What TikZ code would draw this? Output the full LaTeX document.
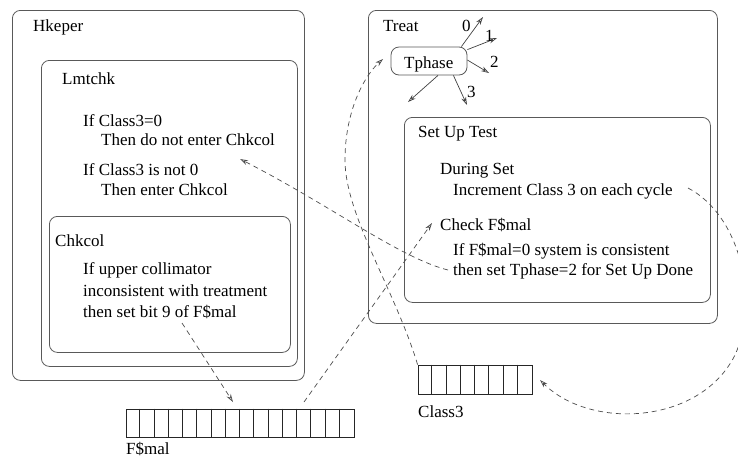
\documentclass[tikz,border=0pt]{standalone}
\usepackage{fontspec}
\setmainfont{Liberation Serif}
\usetikzlibrary{arrows.meta}
\begin{document}
\begin{tikzpicture}[x=1pt,y=-1pt,
  box/.style={draw=black!65, line width=0.8pt, rounded corners=8pt, inner sep=0pt, anchor=north west},
  txt/.style={anchor=base west, inner sep=0pt, font=\fontsize{17}{20}\selectfont},
  link/.style={draw=black!70, line width=0.7pt, dash pattern=on 5pt off 4pt, -{Stealth[open,length=8pt,width=5pt]}},
  ray/.style={draw=black!75, line width=0.7pt, -{Stealth[open,length=8pt,width=5pt]}},
  cellbox/.style={draw=black!85, line width=0.8pt, inner sep=0pt}
]
\useasboundingbox (0,0) rectangle (738,459);

% ---------- Hkeper side ----------
\node[box, minimum width=292pt, minimum height=370pt] (hkeper) at (12,10) {};
\node[box, minimum width=256pt, minimum height=306pt] (lmtchk) at (41,60) {};
\node[box, minimum width=241pt, minimum height=136pt] (chkcol) at (49,216) {};

\node[txt] (hk) at (33,31) {Hkeper};
\node[txt] (lm) at (62,84) {Lmtchk};
\node[txt] (l1) at (83,126) {If Class3=0};
\node[txt] (l2) at (101,145) {Then do not enter Chkcol};
\node[txt] (l3) at (83,175) {If Class3 is not 0};
\node[txt] (l4) at (101,195) {Then enter Chkcol};
\node[txt] (ck) at (55,246) {Chkcol};
\node[txt] (c1) at (83,274) {If upper collimator};
\node[txt] (c2) at (83,296) {inconsistent with treatment};
\node[txt] (c3) at (83,317) {then set bit 9 of F\$mal};

% ---------- Treat side ----------
\node[box, minimum width=349pt, minimum height=313pt] (treat) at (368,10) {};
\node[box, minimum width=306pt, minimum height=185pt] (setup) at (404,117) {};
\node[draw=black!65, line width=0.8pt, rounded corners=8pt, inner sep=0pt,
      minimum width=76pt, minimum height=28pt] (tphase) at (429,61) {};

\node[txt] (tr) at (383,31) {Treat};
\node[txt] (tp) at (404,68) {Tphase};
\node[txt] (su) at (418,137) {Set Up Test};
\node[txt] (s1) at (440,174) {During Set};
\node[txt] (s2) at (453,195) {Increment Class 3 on each cycle};
\node[txt] (s3) at (440,230) {Check F\$mal};
\node[txt] (s4) at (453,255) {If F\$mal=0 system is consistent};
\node[txt] (s5) at (453,275) {then set Tphase=2 for Set Up Done};

% Tphase rays
\coordinate (e0) at (483,17);
\coordinate (e1) at (497,38);
\coordinate (e2) at (489,73);
\coordinate (e3) at (467,105);
\coordinate (e4) at (408,102);
\draw[ray] ([xshift=-6pt]tphase.north east) -- (e0);
\draw[ray] ([yshift=-3pt]tphase.north east) -- (e1);
\draw[ray] ([yshift=1pt]tphase.east) -- (e2);
\draw[ray] ([xshift=-14pt]tphase.south east) -- (e3);
\draw[ray] ([xshift=9pt]tphase.south) -- (e4);
\node[txt] (n0) at (462,31) {0};
\node[txt] (n1) at (485,41) {1};
\node[txt] (n2) at (490,67) {2};
\node[txt] (n3) at (467,97) {3};

% ---------- arrays ----------
\node[cellbox, minimum width=228pt, minimum height=28pt] (fmal) at (240,423) {};
\foreach \i in {1,...,15}
  \draw[cellbox] ([xshift=\i*14.25pt]fmal.north west) -- ([xshift=\i*14.25pt]fmal.south west);
\node[txt] (fl) at (126,454) {F\$mal};

\node[cellbox, minimum width=114pt, minimum height=29pt] (class3) at (475,379.5) {};
\foreach \i in {1,...,7}
  \draw[cellbox] ([xshift=\i*14.25pt]class3.north west) -- ([xshift=\i*14.25pt]class3.south west);
\node[txt] (cl) at (418,417) {Class3};

% ---------- dashed connectors ----------
\coordinate (tpin) at (383,59);
\draw[link] (class3.north west) .. controls (395,290) and (345,215) .. (345,160)
            .. controls (345,110) and (365,75) .. (tpin);

\coordinate (bs) at (448,270);
\coordinate (be) at (240,159);
\draw[link] (bs) .. controls (400,258) and (330,205) .. (be);

\coordinate (cs) at (304,402);
\coordinate (ce) at (432,223);
\draw[link] (cs) -- (ce);

\coordinate (ds) at (688,188);
\coordinate (de) at (540,380);
\draw[link] (ds) .. controls (740,215) and (760,300) .. (735,355)
            .. controls (700,425) and (590,430) .. (de);

\coordinate (es) at (182,323);
\coordinate (ee) at (233,402);
\draw[link] (es) -- (ee);
\end{tikzpicture}
\end{document}
